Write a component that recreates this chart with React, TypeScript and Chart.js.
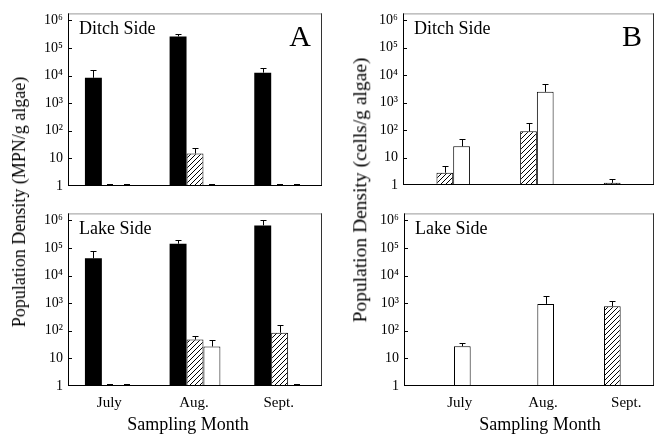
import React, { useEffect, useRef } from 'react';
import { Chart, registerables } from 'chart.js';

Chart.register(...registerables);

const FONT = "'Liberation Serif', 'Times New Roman', Times, serif";

// ---------- data ----------
const months = ['July', 'Aug.', 'Sept.'];
const seriesNames = ['Solid', 'Hatched', 'Open'];
const yTickValues = [1, 10, 100, 1000, 10000, 100000, 1000000];
const yTickLabels = ['1', '10', '10²', '10³', '10⁴', '10⁵', '10⁶'];
const Y_MAX = 1778279; // 10^6.25

// Panel A – Ditch Side (MPN/g algae); 0 = not detected
const aDitchSolid = [8300, 260000, 12700];
const aDitchSolidHi = [15500, 325000, 19000];
const aDitchHatched = [0, 15, 0];
const aDitchHatchedHi = [0, 24, 0];
const aDitchOpen = [0, 0, 0];
const aDitchOpenHi = [0, 0, 0];

// Panel A – Lake Side
const aLakeSolid = [42000, 142000, 655000];
const aLakeSolidHi = [78000, 190000, 1000000];
const aLakeHatched = [0, 48, 85];
const aLakeHatchedHi = [0, 65, 156];
const aLakeOpen = [0, 27, 0];
const aLakeOpenHi = [0, 48, 0];

// Panel B – Ditch Side (cells/g algae)
const bDitchSolid = [0, 0, 0];
const bDitchSolidHi = [0, 0, 0];
const bDitchHatched = [2.8, 91, 1.2];
const bDitchHatchedHi = [4.9, 177, 1.6];
const bDitchOpen = [25.6, 2470, 0];
const bDitchOpenHi = [48, 4700, 0];

// Panel B – Lake Side
const bLakeSolid = [0, 0, 0];
const bLakeSolidHi = [0, 0, 0];
const bLakeHatched = [0, 0, 770];
const bLakeHatchedHi = [0, 0, 1240];
const bLakeOpen = [27.5, 940, 0];
const bLakeOpenHi = [36, 1780, 0];

// ---------- helpers ----------
function makeHatch(ctx: CanvasRenderingContext2D) {
  const c = document.createElement('canvas');
  c.width = 5;
  c.height = 5;
  const g = c.getContext('2d')!;
  g.fillStyle = '#fff';
  g.fillRect(0, 0, 5, 5);
  g.strokeStyle = '#000';
  g.lineWidth = 1;
  g.beginPath();
  g.moveTo(-1, 6);
  g.lineTo(6, -1);
  g.moveTo(-1, 1);
  g.lineTo(1, -1);
  g.moveTo(4, 6);
  g.lineTo(6, 4);
  g.stroke();
  return ctx.createPattern(c, 'repeat');
}

type PanelProps = {
  left: number;
  top: number;
  width: number;
  height: number;
  yWidth: number;
  pad: { top: number; right: number; bottom: number };
  xHeight: number;
  values: number[][];
  uppers: number[][];
  label: string;
  letter?: string;
  showX: boolean;
  labelOffset?: number;
  xTitleShift?: number;
  zeroMarks: boolean;
};

function Panel(p: PanelProps) {
  const ref = useRef<HTMLCanvasElement>(null);
  useEffect(() => {
    const canvas = ref.current!;
    const ctx = canvas.getContext('2d')!;
    const pattern = makeHatch(ctx);
    const fills: any[] = ['#000', pattern, '#fff'];
    const borders = [0, 1, 1];
    const datasets = p.values.map((vals, di) => ({
      label: seriesNames[di],
      data: vals.map((v) => (v > 0 ? v : null)),
      backgroundColor: fills[di],
      borderColor: '#000',
      borderWidth: borders[di],
      categoryPercentage: 0.6,
      barPercentage: 1.0,
    }));

    const decor = {
      id: 'decor',
      afterDatasetsDraw(chart: any) {
        const { ctx: c, chartArea: a, scales } = chart;
        const x = scales.x;
        const y = scales.y;
        c.save();
        c.strokeStyle = '#000';
        c.fillStyle = '#000';
        c.lineWidth = 1;
        const n = p.values.length;
        p.values.forEach((vals, di) => {
          const meta = chart.getDatasetMeta(di);
          vals.forEach((v, i) => {
            if (v > 0) {
              const el = meta.data[i];
              const topY = Math.round(y.getPixelForValue(p.uppers[di][i])) + 0.5;
              const cx = Math.round(el.x) + 0.5;
              c.beginPath();
              c.moveTo(cx, el.y);
              c.lineTo(cx, topY);
              c.moveTo(cx - 3, topY);
              c.lineTo(cx + 3, topY);
              c.stroke();
            } else if (p.zeroMarks) {
              const catW = (x.right - x.left) / months.length;
              const bw = (catW * 0.6) / n;
              const cx = x.getPixelForValue(i) + (di - (n - 1) / 2) * bw;
              c.fillRect(Math.round(cx - 3), a.bottom - 2, 6, 2);
            }
          });
        });
        c.restore();
      },
      afterDraw(chart: any) {
        const { ctx: c, chartArea: a, scales } = chart;
        const y = scales.y;
        c.save();
        // frame
        c.fillStyle = '#999';
        c.fillRect(a.left, a.top, a.right - a.left, 1);
        c.fillStyle = '#333';
        c.fillRect(a.right - 1, a.top, 1, a.bottom - a.top);
        c.fillStyle = '#000';
        c.fillRect(a.left, a.top, 1, a.bottom - a.top);
        c.fillRect(a.left, a.bottom - 1, a.right - a.left, 1);
        // inner ticks
        yTickValues.forEach((v) => {
          if (v === 1) return;
          const yy = Math.round(y.getPixelForValue(v));
          c.fillRect(a.left, yy, 4, 1);
        });
        // panel label
        c.fillStyle = '#000';
        c.textAlign = 'left';
        c.textBaseline = 'alphabetic';
        c.font = `18px ${FONT}`;
        c.fillText(p.label, a.left + 11, a.top + 21);
        if (p.letter) {
          c.font = `30px ${FONT}`;
          c.textAlign = 'center';
          c.fillText(p.letter, a.right - 22, a.top + 33);
        }
        if (p.showX) {
          c.font = `18px ${FONT}`;
          c.textAlign = 'center';
          c.fillText('Sampling Month', (a.left + a.right) / 2 + (p.xTitleShift || 0), chart.height - 4);
        }
        c.restore();
      },
    };

    const chart = new Chart(canvas, {
      type: 'bar',
      data: { labels: months, datasets: datasets as any },
      options: {
        responsive: false,
        animation: false,
        layout: { padding: { left: 0, top: p.pad.top, right: p.pad.right, bottom: p.pad.bottom } },
        plugins: { legend: { display: false }, tooltip: { enabled: false } },
        scales: {
          x: {
            display: p.showX,
            grid: { display: false },
            border: { display: false },
            ticks: {
              color: '#000',
              font: { family: FONT, size: 15 },
              padding: 0,
              labelOffset: p.labelOffset || 0,
              maxRotation: 0,
            },
            afterFit: (s: any) => {
              s.height = p.xHeight;
            },
          },
          y: {
            type: 'logarithmic',
            min: 1,
            max: Y_MAX,
            grid: { display: false, drawTicks: false },
            border: { display: false },
            afterBuildTicks: (s: any) => {
              s.ticks = yTickValues.map((v) => ({ value: v }));
            },
            ticks: {
              color: '#000',
              font: { family: FONT, size: 14 },
              padding: 5,
              callback: (v: any) => {
                const k = yTickValues.indexOf(Number(v));
                return k >= 0 ? yTickLabels[k] : '';
              },
            },
            afterFit: (s: any) => {
              s.width = p.yWidth;
            },
          },
        },
      } as any,
      plugins: [decor],
    });
    return () => chart.destroy();
  }, []);
  return (
    <div style={{ position: 'absolute', left: p.left, top: p.top, width: p.width, height: p.height }}>
      <canvas ref={ref} width={p.width} height={p.height} style={{ display: 'block' }} />
    </div>
  );
}

function yTitle(cx: number, cy: number, size: number): React.CSSProperties {
  return {
    position: 'absolute',
    left: cx,
    top: cy,
    transform: 'translate(-50%, -50%) rotate(-90deg)',
    whiteSpace: 'nowrap',
    fontFamily: FONT,
    fontSize: size,
    color: '#000',
    lineHeight: 1,
  };
}

export default function App() {
  return (
    <div style={{ position: 'absolute', left: 0, top: 0, width: 655, height: 434, background: '#fff', overflow: 'hidden' }}>
      <Panel
        left={0}
        top={0}
        width={330}
        height={200}
        yWidth={68}
        pad={{ top: 13, right: 8, bottom: 14 }}
        xHeight={0}
        values={[aDitchSolid, aDitchHatched, aDitchOpen]}
        uppers={[aDitchSolidHi, aDitchHatchedHi, aDitchOpenHi]}
        label="Ditch Side"
        letter="A"
        showX={false}
        zeroMarks={true}
      />
      <Panel
        left={0}
        top={200}
        width={330}
        height={234}
        yWidth={68}
        pad={{ top: 13, right: 8, bottom: 0 }}
        xHeight={48}
        values={[aLakeSolid, aLakeHatched, aLakeOpen]}
        uppers={[aLakeSolidHi, aLakeHatchedHi, aLakeOpenHi]}
        label="Lake Side"
        showX={true}
        labelOffset={-1}
        xTitleShift={-7}
        zeroMarks={true}
      />
      <Panel
        left={330}
        top={0}
        width={325}
        height={200}
        yWidth={73}
        pad={{ top: 11, right: 1, bottom: 15 }}
        xHeight={0}
        values={[bDitchSolid, bDitchHatched, bDitchOpen]}
        uppers={[bDitchSolidHi, bDitchHatchedHi, bDitchOpenHi]}
        label="Ditch Side"
        letter="B"
        showX={false}
        zeroMarks={false}
      />
      <Panel
        left={330}
        top={200}
        width={325}
        height={234}
        yWidth={74}
        pad={{ top: 12, right: 1, bottom: 0 }}
        xHeight={48}
        values={[bLakeSolid, bLakeHatched, bLakeOpen]}
        uppers={[bLakeSolidHi, bLakeHatchedHi, bLakeOpenHi]}
        label="Lake Side"
        showX={true}
        labelOffset={14}
        xTitleShift={11}
        zeroMarks={false}
      />
      <div style={yTitle(19, 202, 18)}>Population Density (MPN/g algae)</div>
      <div style={yTitle(360, 190, 19.5)}>Population Density (cells/g algae)</div>
    </div>
  );
}
